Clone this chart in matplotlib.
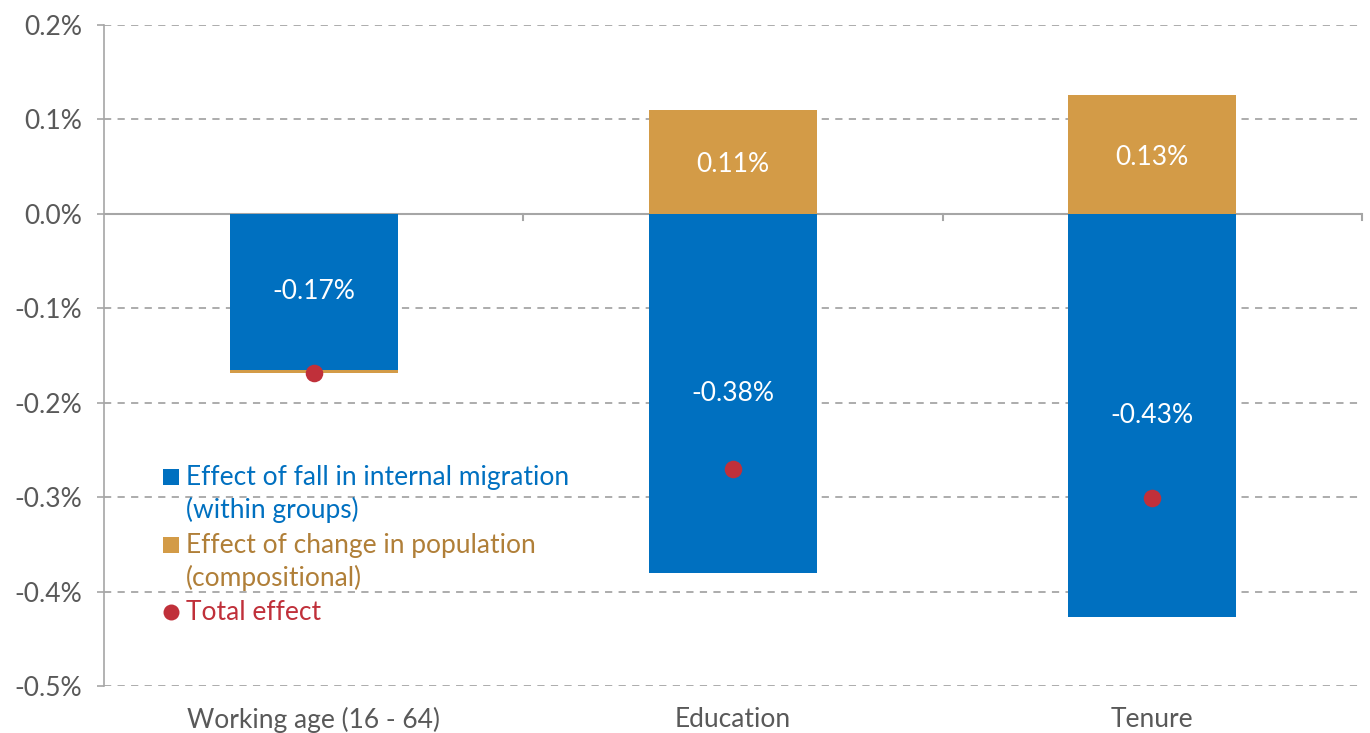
import matplotlib
matplotlib.use("Agg")
import matplotlib.pyplot as plt
import numpy as np

categories = ["Working age (16 - 64)", "Education", "Tenure"]
within_groups = [-0.165, -0.380, -0.427]
compositional = [-0.004, 0.110, 0.126]
total_effect = [-0.169, -0.270, -0.301]
within_labels = ["-0.17%", "-0.38%", "-0.43%"]
comp_labels = [None, "0.11%", "0.13%"]
yticks = [0.2, 0.1, 0.0, -0.1, -0.2, -0.3, -0.4, -0.5]

BLUE = "#0070C0"
GOLD = "#D39B47"
GOLD_TXT = "#B07F38"
RED = "#C0303A"
GREY_TXT = "#595959"
GRID = "#A6A6A6"

plt.rcParams['font.family'] = ['Lato', 'DejaVu Sans']
FS = 19

W, H = 1370, 733
fig = plt.figure(figsize=(W/100, H/100), dpi=100)
ax = fig.add_axes([104/W, 1-686/H, 1258/W, 661/H])

x = np.arange(len(categories))
w = 0.4
ax.bar(x, within_groups, width=w, color=BLUE, zorder=3)
comp_bottom = [0 if c > 0 else b for c, b in zip(compositional, within_groups)]
ax.bar(x, compositional, width=w, bottom=comp_bottom, color=GOLD, zorder=3)
ax.scatter(x, total_effect, s=160, color=RED, zorder=5, linewidths=0)

for i in range(len(categories)):
    ax.text(x[i], within_groups[i]/2, within_labels[i], ha='center', va='center',
            color='white', fontsize=FS, zorder=6)
    if comp_labels[i]:
        ax.text(x[i], compositional[i]/2 - 0.003, comp_labels[i], ha='center', va='center',
                color='white', fontsize=FS, zorder=6)

ax.set_xlim(-0.5, 2.5)
ax.set_ylim(-0.5, 0.2)
ax.set_yticks(yticks)
ax.set_yticklabels([f"{v:.1f}%" for v in yticks], fontsize=FS, color=GREY_TXT)
for v in yticks:
    if v != 0.0:
        ax.axhline(v, color=GRID, lw=1.3, ls=(0, (4, 3.5)), zorder=1)
ax.axhline(0, color=GRID, lw=1.5, zorder=2)

ax.set_xticks(x)
ax.set_xticklabels(categories, fontsize=FS, color=GREY_TXT)
ax.tick_params(axis='x', length=0, pad=15)
ax.tick_params(axis='y', length=5, color=GRID, width=1.2, pad=11)

# category boundary ticks on the zero line
for b in [0.5, 1.5, 2.5]:
    ax.plot([b, b], [0, -0.007], color=GRID, lw=1.5, zorder=2, clip_on=False)

for s in ['top', 'right', 'bottom']:
    ax.spines[s].set_visible(False)
ax.spines['left'].set_color(GRID)
ax.spines['left'].set_linewidth(1.2)

# legend (manual layout, pixel positions)
def fx(px):
    return px / W
def fy(py):
    return 1 - py / H

leg_rows = [
    ("s", BLUE, BLUE, 477, ["Effect of fall in internal migration", "(within groups)"]),
    ("s", GOLD, GOLD_TXT, 545, ["Effect of change in population", "(compositional)"]),
    ("o", RED, RED, 612, ["Total effect"]),
]
for marker, mc, tc, py, lines in leg_rows:
    fig.lines.append(plt.Line2D([fx(170.5)], [fy(py)], marker=marker, ls='none', color=mc,
                                markersize=11 if marker == 's' else 11.5,
                                markeredgewidth=0, transform=fig.transFigure))
    for k, line in enumerate(lines):
        fig.text(fx(186), fy(py + 33*k), line, color=tc, fontsize=FS,
                 ha='left', va='center')

fig.savefig("out.png", dpi=100)
